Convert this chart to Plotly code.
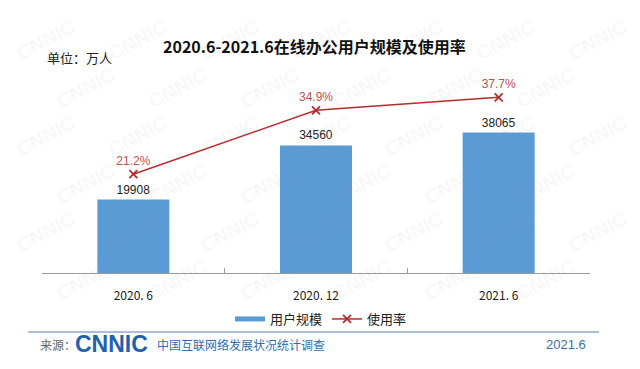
import plotly.graph_objects as go

categories = ["2020. 6", "2020. 12", "2021. 6"]
users = [19908, 34560, 38065]
usage_rate = [21.2, 34.9, 37.7]
usage_labels = ["21.2%", "34.9%", "37.7%"]

W, H = 640, 369
# page offset of the figure inside the browser window (body margin)
OX, OY = 8, 8
# plot area in window pixels
X0, X1, Y0, Y1 = 42, 590, 60, 273
L, T = X0 - OX, Y0 - OY
R, B = W - (X1 - OX), H - (Y1 - OY)
PW, PH = X1 - X0, Y1 - Y0

def px(x):
    return (x - X0) / PW

def py(y):
    return (Y1 - y) / PH

BLUE = "#5B9BD5"
RED = "#B52D2D"

fig = go.Figure()
fig.add_trace(go.Bar(
    x=categories, y=users, name="用户规模", showlegend=False,
    marker=dict(color=BLUE, line=dict(width=0)),
    width=0.394,
    text=[str(v) for v in users], textposition="outside",
    textfont=dict(family="Liberation Sans, Arial", size=12, color="#222"),
    cliponaxis=False,
))
# legend swatch for the bars (thick line, as in the reference legend)
fig.add_trace(go.Scatter(
    x=[None], y=[None], name="用户规模", mode="lines",
    line=dict(color=BLUE, width=5),
))
fig.add_trace(go.Scatter(
    x=categories, y=usage_rate, name="使用率", yaxis="y2",
    mode="lines+markers+text",
    line=dict(color=RED, width=1.5),
    marker=dict(symbol="x-thin", size=8, line=dict(width=1.8, color=RED), color=RED),
    text=usage_labels, textposition="top center",
    textfont=dict(family="Liberation Sans, Arial", size=12, color="#C0504D"),
    cliponaxis=False,
))

def note(text, x, y, size, color, family="Noto Sans CJK SC", xanchor="center", angle=0):
    return dict(text=text, x=px(x), y=py(y), xref="paper", yref="paper",
                xanchor=xanchor, yanchor="middle", showarrow=False, textangle=angle,
                font=dict(family=family, size=size, color=color))

annotations = [
    note("<b>2020.6-2021.6在线办公用户规模及使用率</b>", 314, 46, 16, "#111"),
    note("单位：万人", 45, 57, 13, "#222", xanchor="left"),
    note("来源：", 38, 344, 12, "#666", xanchor="left"),
    note("<b>CNNIC</b>", 73, 344, 23, "#1F5FAF", family="Liberation Sans, Arial", xanchor="left"),
    note("中国互联网络发展状况统计调查", 155, 344, 12, "#2F6DB5", xanchor="left"),
    note("2021.6", 588, 344, 13, "#3A6EA5", family="Liberation Sans, Arial", xanchor="right"),
]

# faint watermark
for row in range(7):
    for col in range(7):
        x = 45 + col * 92 + (row % 2) * 40
        y = 40 + row * 48
        if x > 600 or y > 325:
            continue
        annotations.append(note("<b>CNNIC</b>", x, y, 20, "rgba(150,150,150,0.08)",
                                family="Liberation Sans, Arial", angle=-28))

fig.update_layout(
    width=W, height=H,
    margin=dict(l=L, r=R, t=T, b=B, autoexpand=False),
    paper_bgcolor="white", plot_bgcolor="white",
    showlegend=True,
    legend=dict(orientation="h", x=px(321), xanchor="center", y=py(319), yanchor="middle",
                font=dict(family="Noto Sans CJK SC", size=13, color="#222"),
                itemwidth=30, tracegroupgap=0, bgcolor="rgba(0,0,0,0)"),
    xaxis=dict(type="category", showline=True, linecolor="#9A9A9A", linewidth=1,
               ticks="inside", tickson="boundaries", ticklen=5, tickcolor="#9A9A9A",
               ticklabelstandoff=12,
               tickfont=dict(family="Noto Sans CJK SC", size=12, color="#222"),
               showgrid=False, zeroline=False, fixedrange=True),
    yaxis=dict(range=[0, 57720], visible=False, showgrid=False, zeroline=False),
    yaxis2=dict(range=[0, 45.7], overlaying="y", side="right", visible=False,
                showgrid=False, zeroline=False),
    annotations=annotations,
    shapes=[dict(type="line", xref="paper", yref="paper", x0=px(28), x1=px(599),
                 y0=py(332), y1=py(332), line=dict(color="#8EA9C8", width=1.5))],
)

fig.write_html("out.html")
